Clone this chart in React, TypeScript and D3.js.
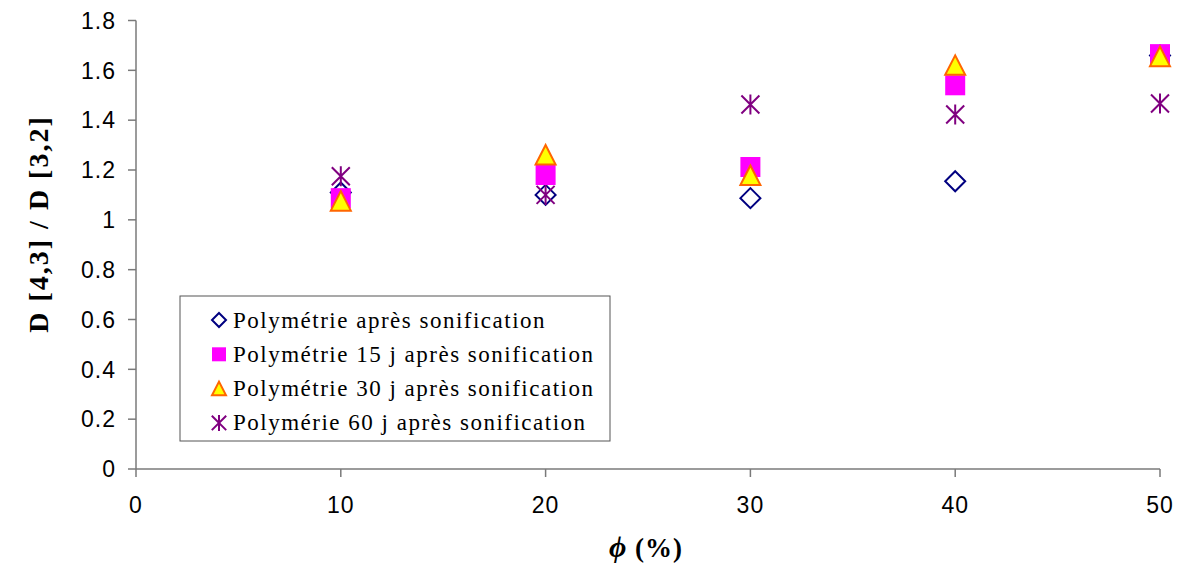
import React from "react";
import * as d3 from "d3";

const xValues = [10, 20, 30, 40, 50];
const seriesNames = [
  "Polymétrie après sonification",
  "Polymétrie 15 j après sonification",
  "Polymétrie 30 j après sonification",
  "Polymérie 60 j après sonification",
];
const s0 = [1.11, 1.1, 1.087, 1.155, 1.66];
const s15 = [1.087, 1.18, 1.212, 1.54, 1.665];
const s30 = [1.075, 1.26, 1.178, 1.62, 1.655];
const s60 = [1.175, 1.1, 1.463, 1.423, 1.467];
const xTicks = [0, 10, 20, 30, 40, 50];
const yTicks = [0, 0.2, 0.4, 0.6, 0.8, 1, 1.2, 1.4, 1.6, 1.8];

const W = 1186;
const H = 575;
const SANS = "'Liberation Sans', Arial, Helvetica, sans-serif";
const SERIF = "'Liberation Serif', 'Times New Roman', Times, serif";

function Marker({ kind, x, y, s }: { kind: number; x: number; y: number; s: number }) {
  if (kind === 0) {
    return (
      <path
        d={`M${x},${y - s}L${x + s},${y}L${x},${y + s}L${x - s},${y}Z`}
        fill="#fff"
        stroke="#000080"
        strokeWidth={2}
      />
    );
  }
  if (kind === 1) {
    return <rect x={x - s} y={y - s} width={2 * s} height={2 * s} fill="#FF00FF" />;
  }
  if (kind === 2) {
    return (
      <path
        d={`M${x},${y - s}L${x + s},${y + s * 0.95}L${x - s},${y + s * 0.95}Z`}
        fill="#FFFF00"
        stroke="#FF6600"
        strokeWidth={2}
      />
    );
  }
  const d = s * 0.9;
  return (
    <path
      d={`M${x - d},${y - d}L${x + d},${y + d}M${x - d},${y + d}L${x + d},${y - d}M${x},${y - s}L${x},${y + s}`}
      stroke="#800080"
      strokeWidth={2}
      fill="none"
    />
  );
}

export default function App() {
  const x = d3.scaleLinear().domain([0, 50]).range([136, 1160]);
  const y = d3.scaleLinear().domain([0, 1.8]).range([469, 20.5]);
  const all = [s0, s15, s30, s60];
  const axisColor = "#7a7a7a";
  const legendX = 180;
  const legendY = 296;
  const rowH = 34.3;
  return (
    <svg
      width={W}
      height={H}
      style={{ position: "absolute", left: 0, top: 0, background: "#fff" }}
    >
      <line x1={x(0)} x2={x(0)} y1={y(1.8)} y2={y(0)} stroke={axisColor} strokeWidth={1.5} />
      <line x1={x(0)} x2={x(50)} y1={y(0)} y2={y(0)} stroke={axisColor} strokeWidth={1.5} />
      {yTicks.map((t) => (
        <g key={"y" + t}>
          <line x1={x(0) - 8} x2={x(0)} y1={y(t)} y2={y(t)} stroke={axisColor} strokeWidth={1.5} />
          <text
            x={x(0) - 20}
            y={y(t)}
            dy="0.36em"
            textAnchor="end"
            style={{ fontFamily: SANS, letterSpacing: "1px" }}
            fontSize={23}
            fill="#000"
          >
            {String(t)}
          </text>
        </g>
      ))}
      {xTicks.map((t) => (
        <g key={"x" + t}>
          <line x1={x(t)} x2={x(t)} y1={y(0)} y2={y(0) + 8} stroke={axisColor} strokeWidth={1.5} />
          <text
            x={x(t)}
            y={513}
            textAnchor="middle"
            style={{ fontFamily: SANS, letterSpacing: "1px" }}
            fontSize={23}
            fill="#000"
          >
            {String(t)}
          </text>
        </g>
      ))}
      <text
        transform={`translate(48,224) rotate(-90)`}
        textAnchor="middle"
        style={{ fontFamily: SERIF, letterSpacing: "2px" }}
        fontWeight="bold"
        fontSize={28}
        fill="#000"
      >
        D [4,3] / D [3,2]
      </text>
      <text
        x={646}
        y={557}
        textAnchor="middle"
        style={{ fontFamily: SERIF, letterSpacing: "1px" }}
        fontWeight="bold"
        fontSize={27}
        fill="#000"
      >
        <tspan fontStyle="italic" fontSize={30}>ϕ</tspan>
        <tspan> (%)</tspan>
      </text>
      {all.map((vals, k) =>
        vals.map((v, i) => (
          <Marker key={k + "-" + i} kind={k} x={x(xValues[i])} y={y(v)} s={10} />
        ))
      )}
      <rect
        x={legendX}
        y={legendY}
        width={430}
        height={145}
        fill="#fff"
        stroke="#555"
        strokeWidth={1}
      />
      {seriesNames.map((n, k) => {
        const cy = legendY + 24 + k * rowH;
        return (
          <g key={n}>
            <Marker kind={k} x={219} y={cy} s={k === 3 ? 8 : 7} />
            <text
              x={233}
              y={cy}
              dy="0.33em"
              style={{ fontFamily: SERIF, letterSpacing: "1.5px" }}
              fontSize={23}
              fill="#000"
            >
              {n}
            </text>
          </g>
        );
      })}
    </svg>
  );
}
